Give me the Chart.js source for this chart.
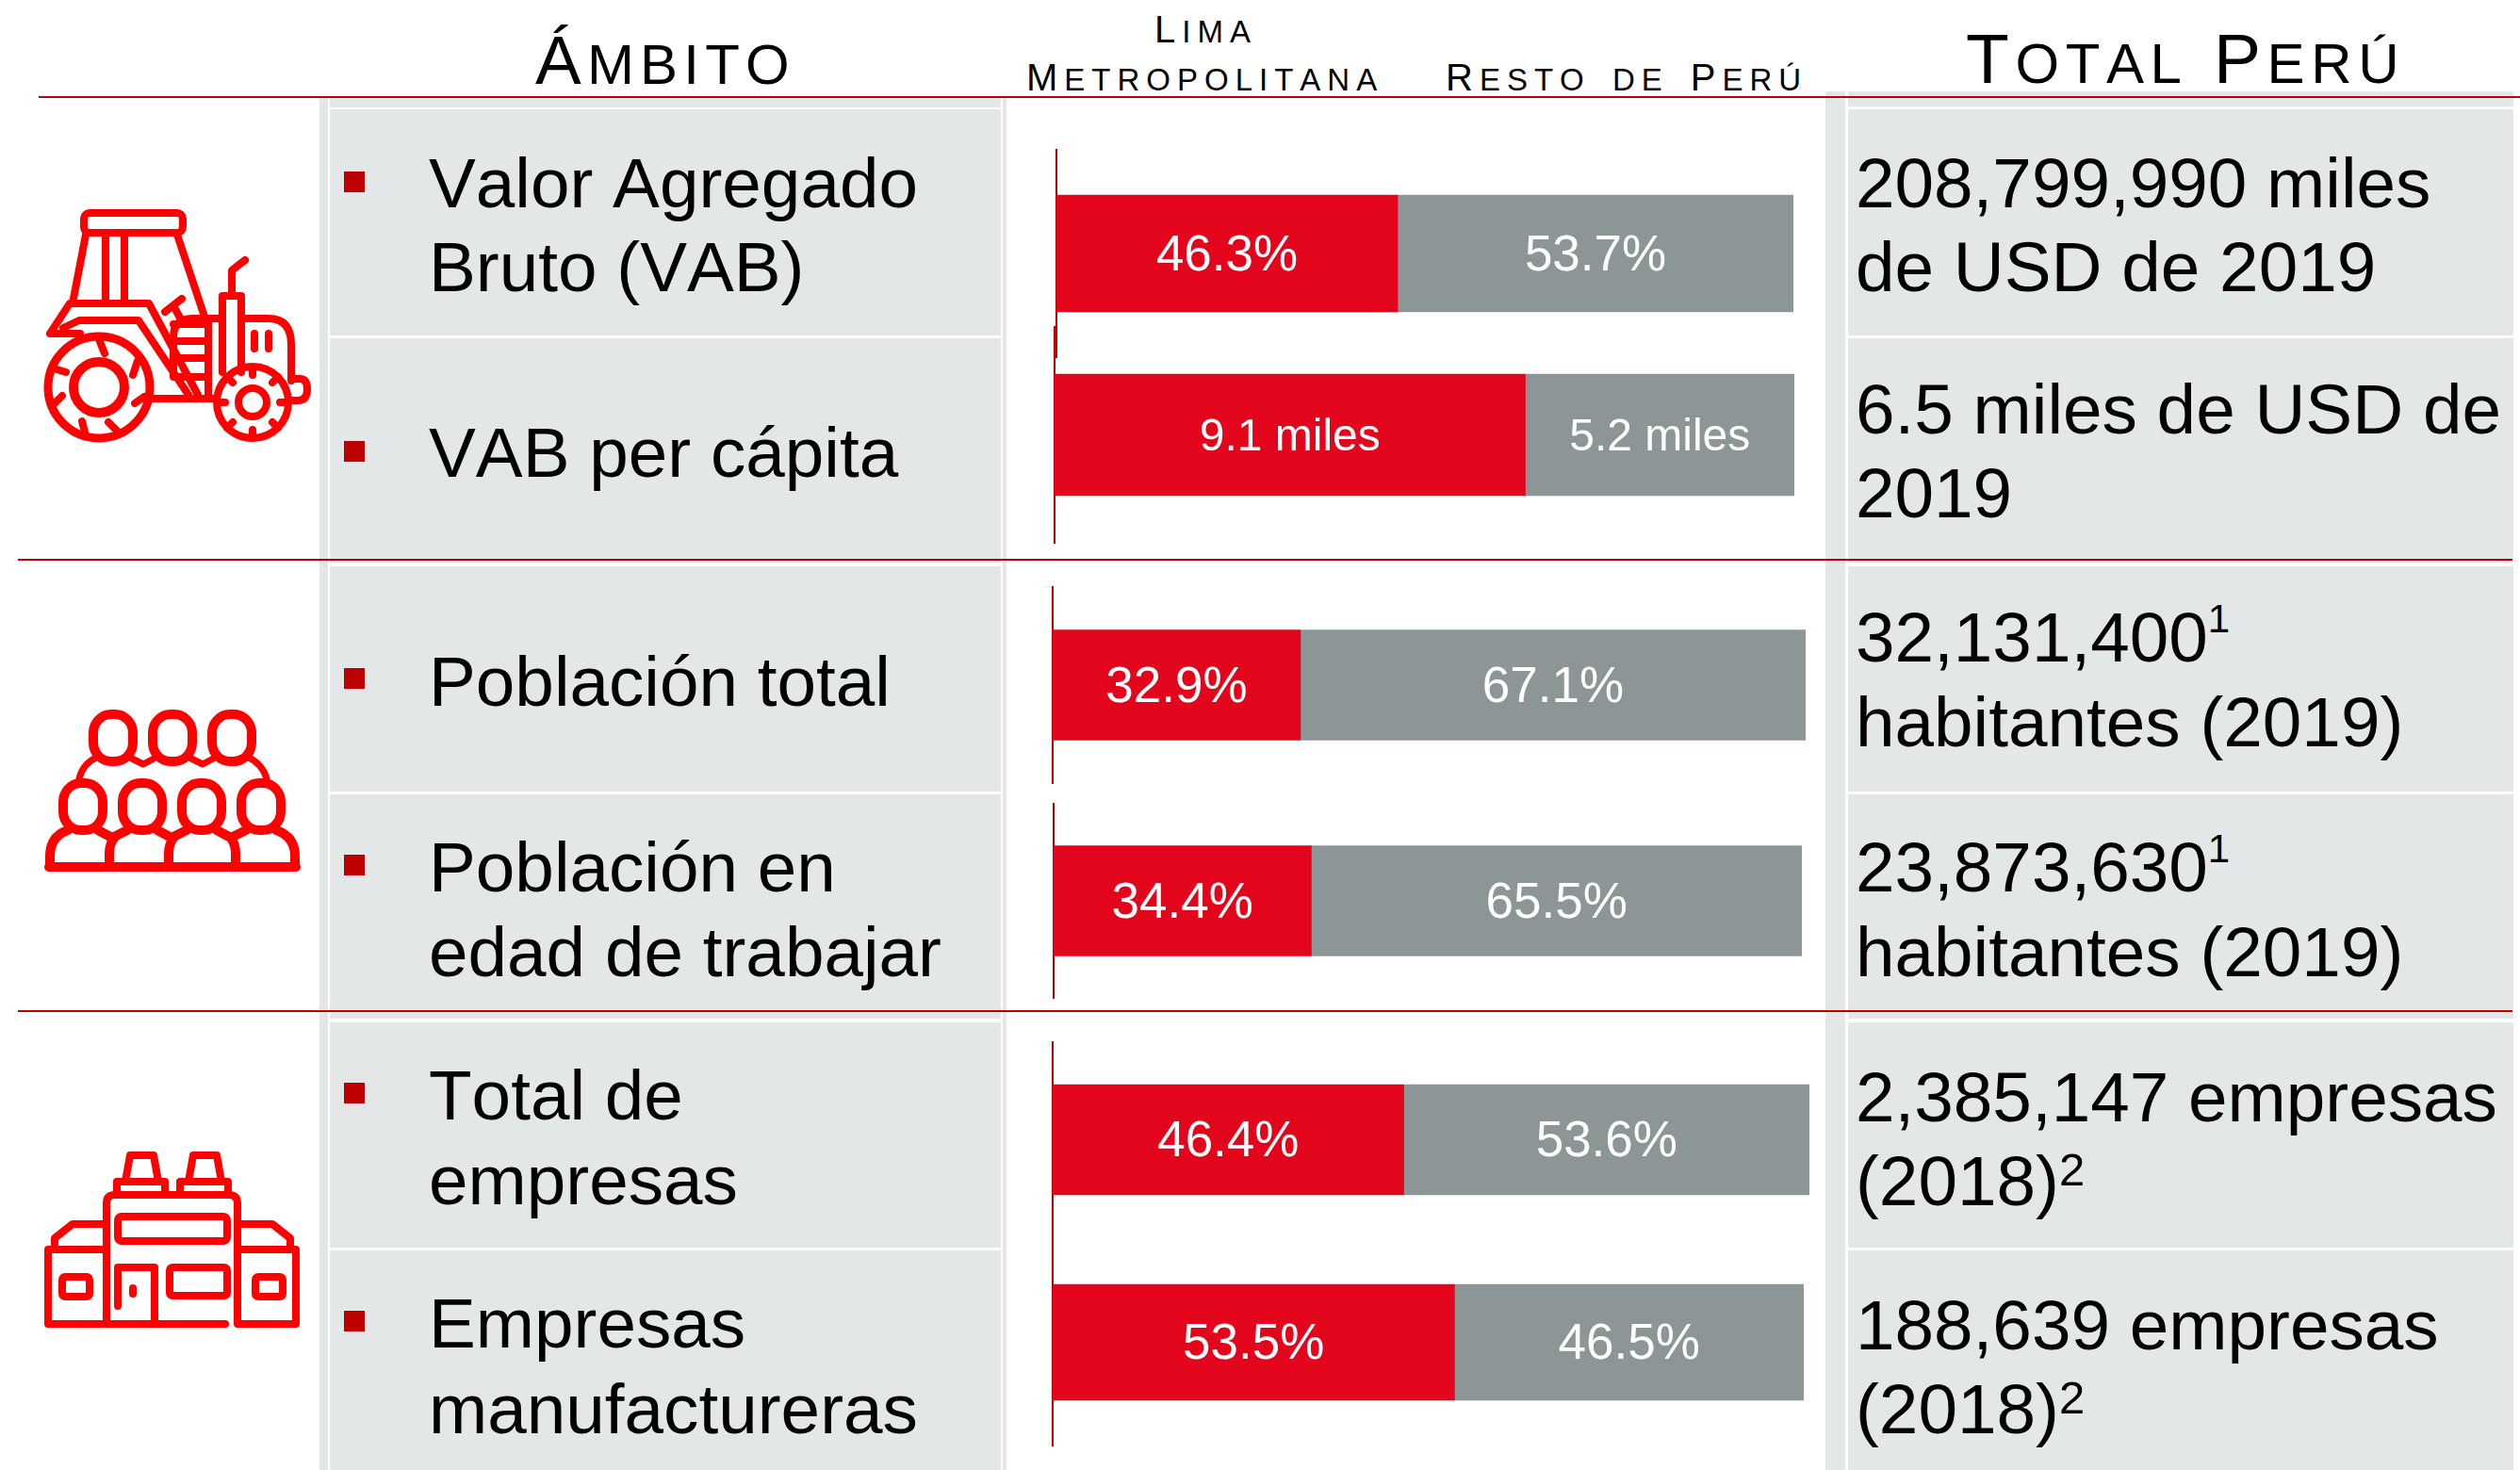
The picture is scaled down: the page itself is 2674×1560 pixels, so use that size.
<!DOCTYPE html>
<html lang="es">
<head>
<meta charset="utf-8">
<title>Ámbito y Total Perú</title>
<script src="https://cdn.jsdelivr.net/npm/chart.js@4/dist/chart.umd.min.js"></script>
<style>
    html, body { margin: 0; background: #fff; }
    #pagina { position: relative; width: 2674px; height: 1560px; overflow: hidden; font-family: "Liberation Sans", Arial, sans-serif; color: #000; }
    .gris { position: absolute; background: #E4E7E8; }
    .rojo { position: absolute; background: #C00000; height: 2px; }
    .vineta { position: absolute; left: 365px; width: 22px; height: 22px; background: #BE0000; }
    .texto { position: absolute; white-space: nowrap; line-height: 1.117; font-kerning: none; }
    .texto sup { line-height: 0; }
    .texto sup.uno { font-size: 42px; vertical-align: 31px; }
    .texto sup.dos { font-size: 49px; vertical-align: 21px; }
    canvas { position: absolute; }
    svg { position: absolute; left: 0; top: 0; }
    svg * { fill: none; stroke: #FF0000; stroke-linecap: round; stroke-linejoin: round; }
</style>
</head>
<body>
<div id="pagina">
    <svg width="340" height="1560" viewBox="0 0 340 1560">
        <!-- tractor -->
        <g stroke-width="8">
            <rect x="89" y="226" width="105" height="21" rx="6"/>
            <path d="M91 249 L77 322 M188 249 L217 336 M112 249 V322 M132 249 V322"/>
            <path d="M53 354 L74 322 H158 L210 419 M53 354 H85 M67 348 L84 340 H147 L200 419"/>
            <path d="M175 331 L193 317 M186 328 L193 341"/>
            <path d="M184 400 V358 Q184 338 204 338 H232 M184 344 H216 M184 362 H216 M184 380 H216 M184 400 H216 M221 340 V420 M236 395 V314 H256 V395 M246 314 V287 L260 276"/>
            <path d="M256 338 H285 Q309 338 309 366 V404 M270 354 V370 M285 354 V370"/>
            <path d="M309 402 H318 Q326 402 326 413 Q326 425 316 425 H306"/>
            <circle cx="105" cy="411" r="54" stroke-width="9"/>
            <circle cx="105" cy="411" r="27" stroke-width="10"/>
            <path d="M105 360 L111 375 M146 383 L141 398 M153 421 L143 428 M125 458 L115 448 M91 462 L87 447 M57 429 L66 420 M57 391 L70 395"/>
            <circle cx="268" cy="427" r="38"/>
            <circle cx="268" cy="427" r="15"/>
            <path d="M268 390 V398 M295 400 L289 406 M305 427 H297 M295 454 L289 448 M268 464 V456 M241 454 L247 448 M231 427 H239 M241 400 L247 406"/>
            <path d="M160 423 H229"/>
        </g>
        <!-- personas -->
        <g stroke-width="10">
            <rect x="99" y="758" width="42" height="50" rx="19" ry="20"/>
            <rect x="162" y="758" width="42" height="50" rx="19" ry="20"/>
            <rect x="225" y="758" width="42" height="50" rx="19" ry="20"/>
            <path d="M84 826 Q88 810 104 803 M136 803 L152 811 L167 803 M199 803 L215 811 L230 803 M262 803 Q278 810 283 826" stroke-width="7"/>
            <rect x="67" y="831" width="42" height="50" rx="19" ry="20"/>
            <rect x="130" y="831" width="42" height="50" rx="19" ry="20"/>
            <rect x="193" y="831" width="42" height="50" rx="19" ry="20"/>
            <rect x="256" y="831" width="42" height="50" rx="19" ry="20"/>
            <path d="M53 920 V908 Q53 888 72 881 M104 881 L119 889 L135 881 M167 881 L182 889 L198 881 M230 881 L245 889 L261 881 M293 881 Q313 888 313 908 V920"/>
            <path d="M116 920 V906 Q116 895 122 888 M179 920 V906 Q179 895 185 888 M250 920 V906 Q250 895 244 888"/>
            <path d="M52 920 H314"/>
        </g>
        <!-- empresas -->
        <g stroke-width="8">
            <path d="M109 1405 H51 V1326 H109 M58 1324 V1314 L77 1299 H109"/>
            <path d="M239 1405 H113 V1277 Q113 1268 122 1268 H243 Q252 1268 252 1277 V1405 H314 V1326 H256 M308 1324 V1314 L289 1299 H256"/>
            <rect x="125" y="1291" width="116" height="26" rx="4"/>
            <path d="M125 1386 V1345 H164 V1405"/>
            <rect x="180" y="1345" width="61" height="30" rx="3"/>
            <rect x="66" y="1355" width="29" height="21" rx="3"/>
            <rect x="271" y="1355" width="29" height="21" rx="3"/>
            <path d="M141 1367 V1373" stroke-width="8"/>
            <path d="M124 1265 V1254 H175 V1265 M133 1254 L138 1226 H163 L168 1254"/>
            <path d="M191 1265 V1254 H242 V1265 M200 1254 L205 1226 H230 L235 1254"/>
        </g>
    </svg>
</div>
<script>
// DATOS
const categorias = ["Valor Agregado Bruto (VAB)", "VAB per cápita", "Población total", "Población en edad de trabajar", "Total de empresas", "Empresas manufactureras"];
const limaValores = [46.3, 9.1, 32.9, 34.4, 46.4, 53.5];
const restoValores = [53.7, 5.2, 67.1, 65.5, 53.6, 46.5];
const unidades = ["%", " miles", "%", "%", "%", "%"];
const textosAmbito = [
    [["Valor Agregado", 221], ["Bruto (VAB)", 310]],
    [["VAB per cápita", 507]],
    [["Población total", 750]],
    [["Población en", 947], ["edad de trabajar", 1037]],
    [["Total de", 1189], ["empresas", 1279]],
    [["Empresas", 1431], ["manufactureras", 1522]]
];
const textosTotal = [
    [["208,799,990 miles", 221], ["de USD de 2019", 310]],
    [["6.5 miles de USD de", 461], ["2019", 550]],
    [['32,131,400<sup class="uno">1</sup>', 703], ["habitantes (2019)", 793]],
    [['23,873,630<sup class="uno">1</sup>', 947], ["habitantes (2019)", 1037]],
    [["2,385,147 empresas", 1191], ['(2018)<sup class="dos">2</sup>', 1280]],
    [["188,639 empresas", 1433], ['(2018)<sup class="dos">2</sup>', 1522]]
];

// COLOCACION DE CADA GRAFICO
const cajas = [
    { left: 1119, right: 1903, top: 158, bottom: 380, barra: 124, fuente: 53 },
    { left: 1117, right: 1904, top: 346, bottom: 577, barra: 129, fuente: 48 },
    { left: 1115, right: 1916, top: 622, bottom: 832, barra: 117, fuente: 53 },
    { left: 1116, right: 1912, top: 852, bottom: 1060, barra: 117, fuente: 53 },
    { left: 1115, right: 1920, top: 1105, bottom: 1314, barra: 117, fuente: 53 },
    { left: 1115, right: 1914, top: 1314, bottom: 1535, barra: 123, fuente: 53 }
];
const filas = [[116, 356], [359, 597], [601, 840], [843, 1081], [1085, 1324], [1327, 1560]];
const vinetas = [[182], [468], [709], [907], [1149], [1391]];

const pagina = document.getElementById("pagina");

function crear(clase, estilos, html) {
    const el = document.createElement("div");
    el.className = clase;
    Object.assign(el.style, estilos);
    if (html) el.innerHTML = html;
    pagina.insertBefore(el, pagina.firstChild);
    return el;
}

function gris(x0, y0, x1, y1) {
    crear("gris", { left: x0 + "px", top: y0 + "px", width: (x1 - x0) + "px", height: (y1 - y0) + "px" });
}

function linea(x0, x1, y) {
    const el = crear("rojo", { left: x0 + "px", top: (y - 1) + "px", width: (x1 - x0) + "px" });
    el.style.zIndex = 3;
}

function texto(html, x, base, size, spacing, palabra) {
    const el = crear("texto", {
        left: x + "px",
        top: (base - 0.905 * size) + "px",
        fontSize: size + "px",
        letterSpacing: (spacing || 0) + "px",
        wordSpacing: (palabra || 0) + "px",
        zIndex: 4
    }, html);
    return el;
}

// versalitas: las minusculas pasan a mayusculas pequeñas
function versal(str, chica) {
    return str.replace(/\p{Ll}+/gu, function (m) {
        return `<span style="font-size:${chica}px">${m.toUpperCase()}</span>`;
    });
}

// FONDO
gris(339, 103, 348, 1560);
gris(1064, 103, 1068, 1560);
gris(1937, 97, 1958, 1560);
gris(350, 103, 1062, 114);
gris(1961, 97, 2667, 113);
filas.forEach(function (f) {
    gris(350, f[0], 1062, f[1]);
    gris(1961, f[0], 2667, f[1]);
});

// LINEAS ROJAS
linea(41, 2674, 103);
linea(19, 2666, 594);
linea(19, 2666, 1073);

// ICONOS Y CUADRITOS
vinetas.forEach(function (v) {
    crear("vineta", { top: v[0] + "px", zIndex: 4 });
});

// ENCABEZADOS
texto(versal("Ámbito", 60), 568, 89, 73, 6.2);
texto(versal("Lima", 33), 1225, 45, 40, 7);
texto(versal("Metropolitana", 33), 1089, 96, 40, 7);
texto(versal("Resto de Perú", 33), 1534, 96, 40, 7, 5);
texto(versal("Total Perú", 60), 2086, 89, 75, 6.6);

// TEXTOS DE LAS FILAS
textosAmbito.forEach(function (lineas) {
    lineas.forEach(function (l) { texto(l[0], 455, l[1], 74.7); });
});
textosTotal.forEach(function (lineas) {
    lineas.forEach(function (l) { texto(l[0], 1969, l[1], 74.7); });
});

// GRAFICOS
const etiquetasBarra = {
    id: "etiquetasBarra",
    afterDatasetsDraw(chart, args, opts) {
        const ctx = chart.ctx;
        ctx.save();
        ctx.font = opts.fuente + 'px "Liberation Sans", Arial, sans-serif';
        ctx.fillStyle = "#fff";
        ctx.textAlign = "center";
        ctx.textBaseline = "middle";
        chart.data.datasets.forEach(function (ds, i) {
            const barra = chart.getDatasetMeta(i).data[0];
            const centro = barra.getCenterPoint();
            ctx.fillText(ds.data[0] + opts.unidad, centro.x, centro.y + 3);
        });
        ctx.restore();
    }
};

categorias.forEach(function (categoria, i) {
    const caja = cajas[i];
    const canvas = document.createElement("canvas");
    canvas.style.left = caja.left + "px";
    canvas.style.top = caja.top + "px";
    canvas.style.zIndex = 2;
    canvas.width = caja.right - caja.left;
    canvas.height = caja.bottom - caja.top;
    pagina.appendChild(canvas);

    new Chart(canvas.getContext("2d"), {
        type: "bar",
        data: {
            labels: [categoria],
            datasets: [
                { label: "Lima Metropolitana", data: [limaValores[i]], backgroundColor: "#E3051B", barThickness: caja.barra },
                { label: "Resto de Perú", data: [restoValores[i]], backgroundColor: "#8C9696", barThickness: caja.barra }
            ]
        },
        options: {
            indexAxis: "y",
            responsive: false,
            animation: false,
            layout: { padding: 0 },
            scales: {
                x: { stacked: true, display: false, min: 0, max: limaValores[i] + restoValores[i] },
                y: {
                    stacked: true,
                    ticks: { display: false },
                    grid: { display: false, drawTicks: false },
                    border: { color: "#C00000", width: 2 },
                    afterFit: function (escala) { escala.width = 2; }
                }
            },
            plugins: {
                legend: { display: false },
                tooltip: { enabled: false },
                etiquetasBarra: { fuente: caja.fuente, unidad: unidades[i] }
            }
        },
        plugins: [etiquetasBarra]
    });
});
</script>
</body>
</html>
